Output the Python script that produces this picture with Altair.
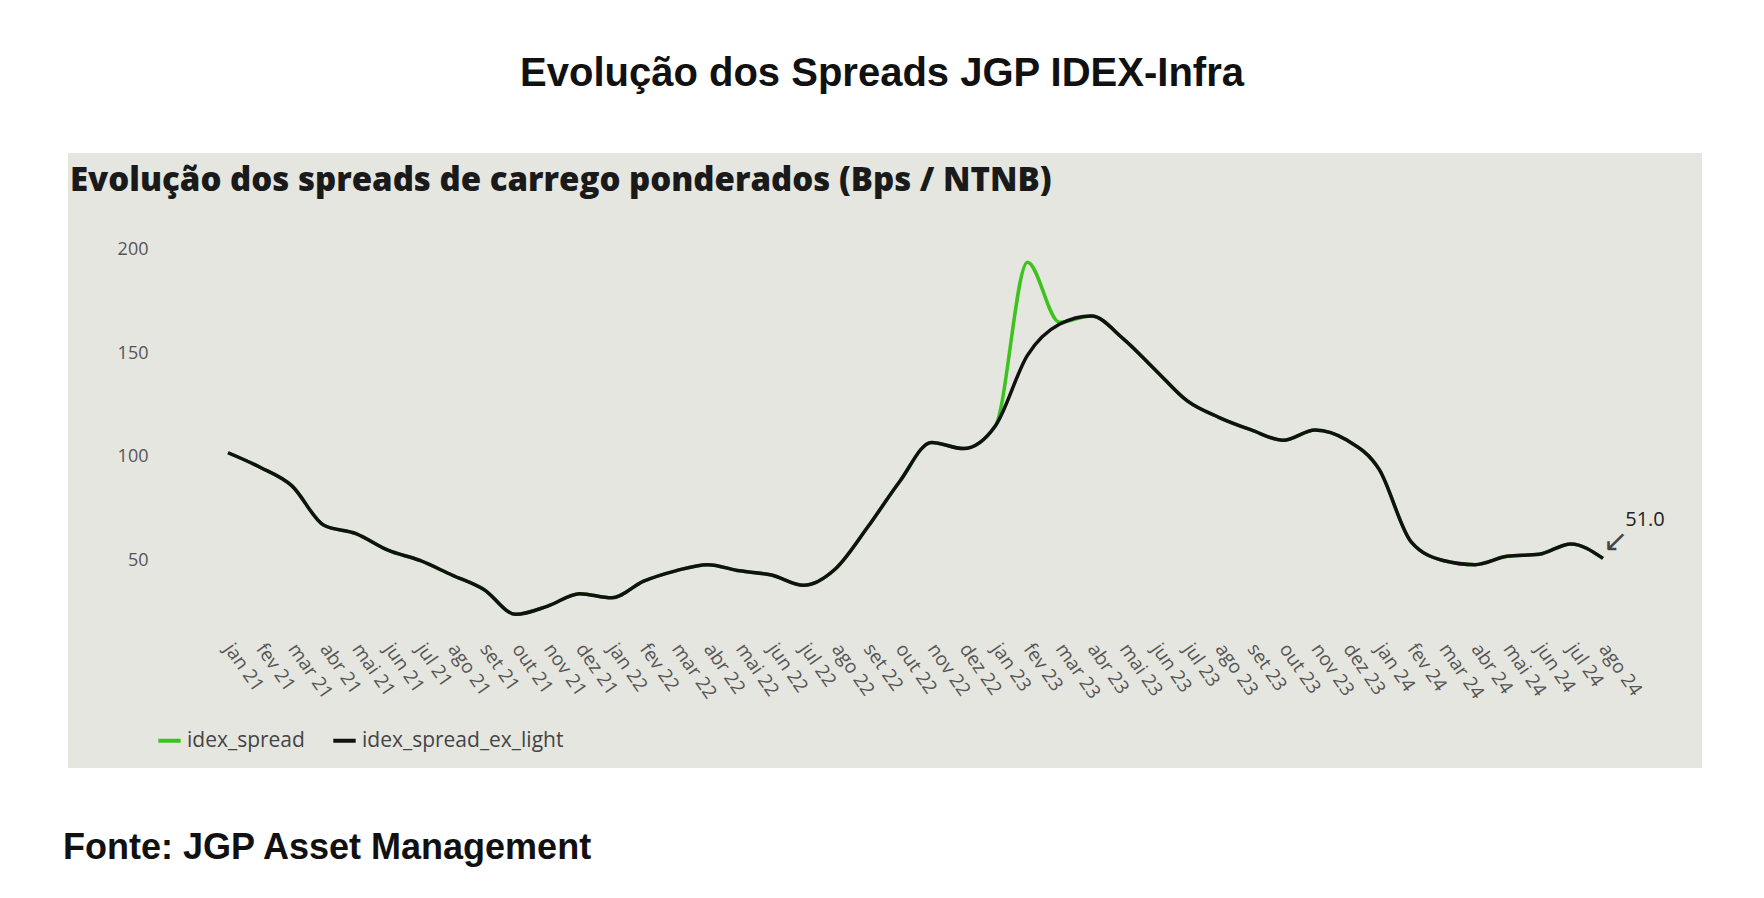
import pandas as pd
import altair as alt

# --- dati ---
meses = ["jan 21", "fev 21", "mar 21", "abr 21", "mai 21", "jun 21", "jul 21", "ago 21", "set 21", "out 21",
         "nov 21", "dez 21", "jan 22", "fev 22", "mar 22", "abr 22", "mai 22", "jun 22", "jul 22", "ago 22",
         "set 22", "out 22", "nov 22", "dez 22", "jan 23", "fev 23", "mar 23", "abr 23", "mai 23", "jun 23",
         "jul 23", "ago 23", "set 23", "out 23", "nov 23", "dez 23", "jan 24", "fev 24", "mar 24", "abr 24",
         "mai 24", "jun 24", "jul 24", "ago 24"]
ex_light = [102, 95, 86, 67, 63, 55, 50, 43, 36, 24,
            28, 34, 32, 40, 45, 48, 45, 43, 38, 46,
            66, 88, 107, 104, 115, 149, 164, 168, 157, 142,
            127, 119, 113, 108, 113, 108, 94, 59, 50, 48,
            52, 53, 58, 51]
spread = list(ex_light)
spread[25] = 194
spread[26] = 165

df = pd.DataFrame({
    "mes": meses * 2,
    "valor": spread + ex_light,
    "serie": ["idex_spread"] * len(meses) + ["idex_spread_ex_light"] * len(meses),
})
ultimo = pd.DataFrame({"mes": [meses[-1]], "valor": [ex_light[-1]], "txt": [f"{ex_light[-1]:.1f}"]})

W, H = 1375, 404
x = alt.X("mes:N", sort=meses, title=None,
          scale=alt.Scale(type="point", padding=0),
          axis=alt.Axis(labelAngle=55, labelAlign="left", labelBaseline="middle", labelPadding=12,
                        labelFontSize=19, labelColor="#555", labelFont="Open Sans", zindex=2,
                        domain=False, ticks=False, grid=False, labelOverlap=False))
y = alt.Y("valor:Q", title=None,
          scale=alt.Scale(domain=[15, 210], nice=False, zero=False),
          axis=alt.Axis(values=[50, 100, 150, 200], labelPadding=80, labelFontSize=18, labelColor="#555",
                        labelFont="Open Sans", domain=False, ticks=False, grid=False, zindex=2))

painel = alt.Chart(pd.DataFrame({"a": [0]})).mark_rect(color="#e6e6e1").encode(
    x=alt.value(-160), x2=alt.value(1474), y=alt.value(-76), y2=alt.value(539))

def texto(t, xp, yp, size, font, align="left", color="#111", weight="bold"):
    return alt.Chart(pd.DataFrame({"t": [t]})).mark_text(
        align=align, baseline="middle", fontSize=size, font=font, fontWeight=weight, color=color
    ).encode(x=alt.value(xp), y=alt.value(yp), text="t:N")

titulo = texto("Evolução dos Spreads JGP IDEX-Infra", 654, -155, 40, "Liberation Sans", align="center")
subtitulo = texto("Evolução dos spreads de carrego ponderados (Bps / NTNB)", -158, -48, 33, "Open Sans",
                  color="#1a1a1a", weight=800)
fonte = texto("Fonte: JGP Asset Management", -165, 619, 36, "Liberation Sans")

cores = alt.Color("serie:N", title=None,
                  scale=alt.Scale(domain=["idex_spread", "idex_spread_ex_light"], range=["#3cc41c", "#111111"]),
                  legend=alt.Legend(orient="none", legendX=-72, legendY=498, direction="horizontal",
                                    symbolType="stroke", symbolStrokeWidth=4, symbolSize=500,
                                    labelFontSize=21, labelColor="#444", labelFont="Open Sans",
                                    labelLimit=0, columnPadding=20))
legenda = alt.Chart(df).mark_line(opacity=0, interpolate="monotone").encode(
    x=x, y=y, detail="serie:N", color=cores)
linha_green = alt.Chart(df[df.serie == "idex_spread"]).mark_line(
    interpolate="monotone", strokeWidth=3.5, color="#3cc41c").encode(x=x, y=y)
linha_black = alt.Chart(df[df.serie == "idex_spread_ex_light"]).mark_line(
    interpolate="monotone", strokeWidth=3.5, color="#111111").encode(x=x, y=y)

seta = alt.Chart(ultimo).mark_text(text="↙", fontSize=30, color="#444", dx=12, dy=-16).encode(x=x, y=y)
rotulo = alt.Chart(ultimo).mark_text(fontSize=20, color="#222", font="Open Sans", dx=42, dy=-38).encode(
    x=x, y=y, text="txt:N")

chart = alt.layer(painel, titulo, subtitulo, fonte, legenda,
                  linha_green, linha_black, seta, rotulo).properties(
    width=W, height=H,
    autosize=alt.AutoSizeParams(type="none"),
    padding={"left": 220, "top": 221, "right": 153, "bottom": 257},
).configure(background="white").configure_view(strokeWidth=0, fill=None)

chart.save("out.html", embed_options={"renderer": "svg", "actions": False})
